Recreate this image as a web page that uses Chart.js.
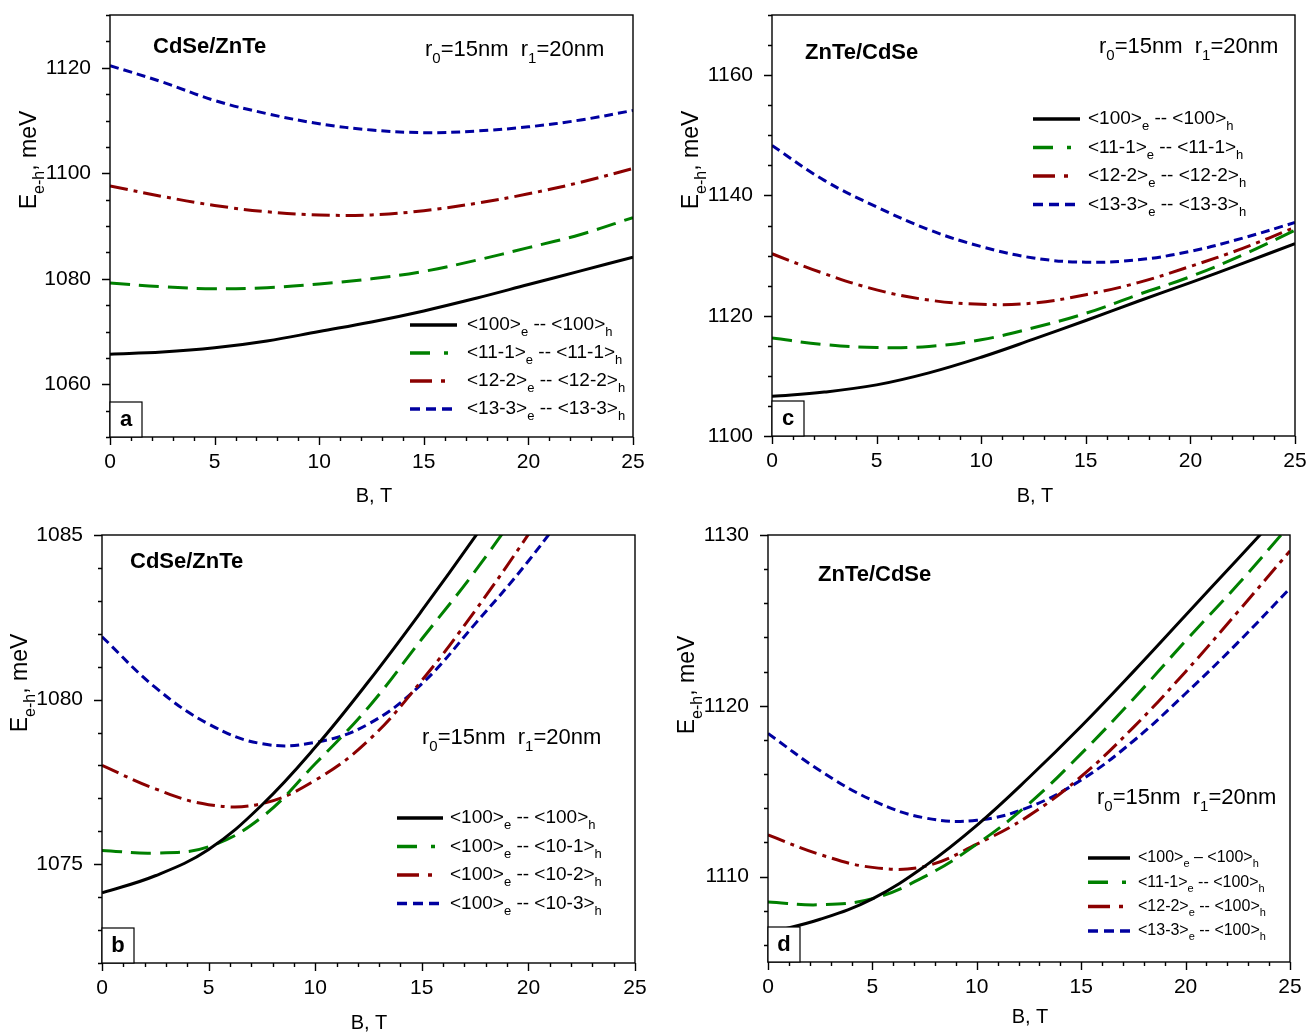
<!DOCTYPE html>
<html>
<head>
<meta charset="utf-8">
<script src="https://cdn.jsdelivr.net/npm/chart.js@4"></script>
<style>
  body { margin: 0; background: #fff; }
  #wrap { position: relative; width: 1307px; height: 1035px; }
  canvas { position: absolute; }
</style>
</head>
<body>
<div id="wrap">
  <canvas id="chartA" width="650" height="510" style="left:0;top:0"></canvas>
  <canvas id="chartC" width="657" height="510" style="left:650px;top:0"></canvas>
  <canvas id="chartB" width="650" height="525" style="left:0;top:510px"></canvas>
  <canvas id="chartD" width="657" height="525" style="left:650px;top:510px"></canvas>
</div>
<script>
// --- magnetic field points (T) ---
const fieldB = [0, 2.5, 5, 7.5, 10, 12.5, 15, 17.5, 20, 22.5, 25];
const xTicks = [0, 5, 10, 15, 20, 25];

// --- panel a : CdSe/ZnTe ---
const aLine100 = [1065.7, 1066.1, 1066.9, 1068.2, 1070.0, 1071.8, 1073.9, 1076.3, 1078.9, 1081.5, 1084.1];
const aLine111 = [1079.2, 1078.5, 1078.1, 1078.3, 1079.0, 1080.0, 1081.4, 1083.5, 1085.9, 1088.4, 1091.6];
const aLine122 = [1097.6, 1095.6, 1093.9, 1092.7, 1092.1, 1092.1, 1092.9, 1094.3, 1096.1, 1098.3, 1100.9];
const aLine133 = [1120.4, 1117.3, 1113.8, 1111.3, 1109.4, 1108.2, 1107.7, 1108.0, 1108.8, 1110.1, 1111.9];
const aYTicks = [1060, 1080, 1100, 1120];

// --- panel c : ZnTe/CdSe ---
const cLine100 = [1106.6, 1107.3, 1108.5, 1110.5, 1113.1, 1116.1, 1119.2, 1122.4, 1125.5, 1128.7, 1132.0];
const cLine111 = [1116.3, 1115.2, 1114.7, 1114.9, 1116.0, 1118.0, 1120.4, 1123.5, 1126.5, 1130.1, 1134.2];
const cLine122 = [1130.3, 1127.0, 1124.3, 1122.6, 1121.9, 1122.1, 1123.5, 1125.5, 1128.2, 1131.2, 1134.7];
const cLine133 = [1148.3, 1142.5, 1138.1, 1134.3, 1131.5, 1129.6, 1128.9, 1129.3, 1130.7, 1132.9, 1135.5];
const cYTicks = [1100, 1120, 1140, 1160];

// --- panel b : CdSe/ZnTe, hole levels ---
const bLine100 = [1074.13, 1074.65, 1075.45, 1076.8, 1078.55, 1080.55, 1082.7, 1084.95, 1087.3, 1089.8, 1092.4];
const bLine101 = [1075.42, 1075.34, 1075.53, 1076.43, 1078.05, 1079.77, 1081.84, 1083.9, 1086.2, 1088.7, 1091.3];
const bLine102 = [1078.0, 1077.29, 1076.81, 1076.84, 1077.55, 1078.76, 1080.58, 1082.7, 1085.02, 1087.5, 1090.1];
const bLine103 = [1081.91, 1080.37, 1079.26, 1078.66, 1078.7, 1079.26, 1080.48, 1082.3, 1084.21, 1086.4, 1088.8];
const bYTicks = [1075, 1080, 1085];

// --- panel d : ZnTe/CdSe, electron levels ---
const dLine100 = [1106.7, 1107.5, 1108.7, 1110.6, 1113.0, 1115.8, 1118.8, 1122.0, 1125.3, 1128.6, 1131.9];
const dLine111 = [1108.51, 1108.35, 1108.71, 1110.0, 1111.9, 1114.27, 1117.2, 1120.4, 1123.8, 1127.1, 1130.6];
const dLine122 = [1112.44, 1111.29, 1110.54, 1110.6, 1111.9, 1113.57, 1115.86, 1118.74, 1122.0, 1125.5, 1129.07];
const dLine133 = [1118.38, 1116.2, 1114.47, 1113.44, 1113.3, 1114.07, 1115.66, 1117.94, 1120.72, 1123.7, 1126.88];
const dYTicks = [1110, 1120, 1130];

// legend texts, _{..} = subscript
const legendAC = ['<100>_{e} -- <100>_{h}', '<11-1>_{e} -- <11-1>_{h}', '<12-2>_{e} -- <12-2>_{h}', '<13-3>_{e} -- <13-3>_{h}'];
const legendB = ['<100>_{e} -- <100>_{h}', '<100>_{e} -- <10-1>_{h}', '<100>_{e} -- <10-2>_{h}', '<100>_{e} -- <10-3>_{h}'];
const legendD = ['<100>_{e} – <100>_{h}', '<11-1>_{e} -- <100>_{h}', '<12-2>_{e} -- <100>_{h}', '<13-3>_{e} -- <100>_{h}'];

const FONT = '"Liberation Sans", Arial, sans-serif';
const lineStyles = [
    { color: '#000000', dash: [], legendDash: [] },
    { color: '#008000', dash: [20, 9], legendDash: [20, 14, 4, 60] },
    { color: '#8b0000', dash: [18, 6, 4, 6], legendDash: [22, 9, 4, 60] },
    { color: '#0000a0', dash: [9, 5], legendDash: [10, 6] }
];

const panels = [
    { id: 'chartA', w: 650, h: 510, plot: [110, 15, 633, 437], yMin: 1050, yMax: 1130, yTicks: aYTicks, yMinor: 5,
      series: [aLine100, aLine111, aLine122, aLine133], legend: legendAC, tag: 'a', system: 'CdSe/ZnTe',
      systemPos: [153, 47], radiiPos: [425, 50], leg: { x: 410, len: 47, tx: 467, y: 325, dy: 28, size: 19 },
      yTitle: [30, 160], xTitle: [374, 496] },
    { id: 'chartC', w: 657, h: 510, plot: [122, 15, 645, 436], yMin: 1100, yMax: 1170, yTicks: cYTicks, yMinor: 5,
      series: [cLine100, cLine111, cLine122, cLine133], legend: legendAC, tag: 'c', system: 'ZnTe/CdSe',
      systemPos: [155, 53], radiiPos: [449, 47], leg: { x: 383, len: 47, tx: 438, y: 119, dy: 28.5, size: 19 },
      yTitle: [42, 160], xTitle: [385, 496] },
    { id: 'chartB', w: 650, h: 525, plot: [102, 25, 635, 453], yMin: 1072, yMax: 1085, yTicks: bYTicks, yMinor: 1,
      series: [bLine100, bLine101, bLine102, bLine103], legend: legendB, tag: 'b', system: 'CdSe/ZnTe',
      systemPos: [130, 52], radiiPos: [422, 228], leg: { x: 397, len: 46, tx: 450, y: 308, dy: 28.5, size: 19 },
      yTitle: [21, 173], xTitle: [369, 513] },
    { id: 'chartD', w: 657, h: 525, plot: [118, 25, 640, 452], yMin: 1105, yMax: 1130, yTicks: dYTicks, yMinor: 2,
      series: [dLine100, dLine111, dLine122, dLine133], legend: legendD, tag: 'd', system: 'ZnTe/CdSe',
      systemPos: [168, 65], radiiPos: [447, 288], leg: { x: 438, len: 42, tx: 488, y: 348, dy: 24.3, size: 16 },
      yTitle: [38, 175], xTitle: [380, 507] }
];

function richParts(text) {
    const parts = [];
    const re = /_\{([^}]*)\}/g;
    let last = 0, m;
    while ((m = re.exec(text))) {
        if (m.index > last) parts.push({ t: text.slice(last, m.index), sub: false });
        parts.push({ t: m[1], sub: true });
        last = re.lastIndex;
    }
    if (last < text.length) parts.push({ t: text.slice(last), sub: false });
    return parts;
}

// draw text with subscripts, y = middle of main text
function drawRich(ctx, text, x, y, size, bold, center) {
    const weight = bold ? 'bold ' : '';
    const subSize = Math.round(size * 0.68);
    const parts = richParts(text);
    let width = 0;
    parts.forEach(p => {
        ctx.font = weight + (p.sub ? subSize : size) + 'px ' + FONT;
        p.w = ctx.measureText(p.t).width;
        width += p.w;
    });
    let cx = center ? x - width / 2 : x;
    ctx.fillStyle = '#000';
    ctx.textAlign = 'left';
    ctx.textBaseline = 'middle';
    parts.forEach(p => {
        ctx.font = weight + (p.sub ? subSize : size) + 'px ' + FONT;
        ctx.fillText(p.t, cx, p.sub ? y + size * 0.4 : y);
        cx += p.w;
    });
}

const decorPlugin = {
    id: 'decor',
    afterDatasetsDraw(chart) {
        const p = chart.config.options.plugins.decor.panel;
        const { ctx, chartArea: a, scales: { x, y } } = chart;
        ctx.save();
        ctx.strokeStyle = '#000';
        ctx.lineWidth = 1.4;
        ctx.setLineDash([]);

        // frame
        ctx.strokeRect(a.left, a.top, a.right - a.left, a.bottom - a.top);

        // major / minor ticks (outward)
        ctx.beginPath();
        for (let v = 0; v <= 25; v += 1) {
            const px = Math.round(x.getPixelForValue(v)) + 0.5;
            const len = xTicks.includes(v) ? 8 : 4;
            ctx.moveTo(px, a.bottom);
            ctx.lineTo(px, a.bottom + len);
        }
        for (let v = Math.ceil(p.yMin / p.yMinor) * p.yMinor; v <= p.yMax + 1e-9; v += p.yMinor) {
            const py = Math.round(y.getPixelForValue(v)) + 0.5;
            const len = p.yTicks.includes(v) ? 8 : 4;
            ctx.moveTo(a.left - len, py);
            ctx.lineTo(a.left, py);
        }
        ctx.stroke();

        // panel letter box
        ctx.fillStyle = '#fff';
        ctx.fillRect(a.left, a.bottom - 35, 32, 35);
        ctx.lineWidth = 1.2;
        ctx.strokeRect(a.left, a.bottom - 35, 32, 35);
        ctx.fillStyle = '#000';
        ctx.font = 'bold 22px ' + FONT;
        ctx.textAlign = 'center';
        ctx.textBaseline = 'middle';
        ctx.fillText(p.tag, a.left + 16, a.bottom - 17);

        // captions
        drawRich(ctx, p.system, p.systemPos[0], p.systemPos[1], 22, true, false);
        drawRich(ctx, 'r_{0}=15nm  r_{1}=20nm', p.radiiPos[0], p.radiiPos[1], 22, false, false);

        // legend
        chart.data.datasets.forEach((ds, i) => {
            const ly = p.leg.y + i * p.leg.dy;
            ctx.beginPath();
            ctx.strokeStyle = lineStyles[i].color;
            ctx.lineWidth = 3.5;
            ctx.setLineDash(lineStyles[i].legendDash);
            ctx.moveTo(p.leg.x, ly);
            ctx.lineTo(p.leg.x + p.leg.len, ly);
            ctx.stroke();
            ctx.setLineDash([]);
            drawRich(ctx, p.legend[i], p.leg.tx, ly, p.leg.size, false, false);
        });

        // axis titles
        drawRich(ctx, 'B, T', p.xTitle[0], p.xTitle[1], 20, false, true);
        ctx.translate(p.yTitle[0], p.yTitle[1]);
        ctx.rotate(-Math.PI / 2);
        drawRich(ctx, 'E_{e-h}, meV', 0, 0, 23, false, true);
        ctx.restore();
    }
};

function noScalePadding(s) {
    s.paddingLeft = 0;
    s.paddingRight = 0;
    s.paddingTop = 0;
    s.paddingBottom = 0;
}

panels.forEach(p => {
    new Chart(document.getElementById(p.id), {
        type: 'line',
        data: {
            datasets: p.series.map((vals, i) => ({
                data: fieldB.map((b, k) => ({ x: b, y: vals[k] })),
                borderColor: lineStyles[i].color,
                borderDash: lineStyles[i].dash,
                borderWidth: 3,
                pointRadius: 0,
                tension: 0.4,
                fill: false,
                clip: 0
            }))
        },
        options: {
            responsive: false,
            animation: false,
            layout: { padding: { left: 0, top: p.plot[1], right: p.w - p.plot[2], bottom: 0 } },
            plugins: { legend: { display: false }, tooltip: { enabled: false }, decor: { panel: p } },
            scales: {
                x: {
                    type: 'linear', min: 0, max: 25,
                    grid: { display: false }, border: { display: false },
                    afterBuildTicks: s => { s.ticks = xTicks.map(v => ({ value: v })); },
                    ticks: { padding: 5, color: '#000', font: { family: FONT, size: 21 }, maxRotation: 0,
                             callback: v => String(v) },
                    afterFit: s => { s.height = p.h - p.plot[3]; noScalePadding(s); }
                },
                y: {
                    type: 'linear', min: p.yMin, max: p.yMax,
                    grid: { display: false }, border: { display: false },
                    afterBuildTicks: s => { s.ticks = p.yTicks.map(v => ({ value: v })); },
                    ticks: { padding: 11, color: '#000', font: { family: FONT, size: 21 },
                             callback: v => String(v) },
                    afterFit: s => { s.width = p.plot[0]; noScalePadding(s); }
                }
            }
        },
        plugins: [decorPlugin]
    });
});
</script>
</body>
</html>
